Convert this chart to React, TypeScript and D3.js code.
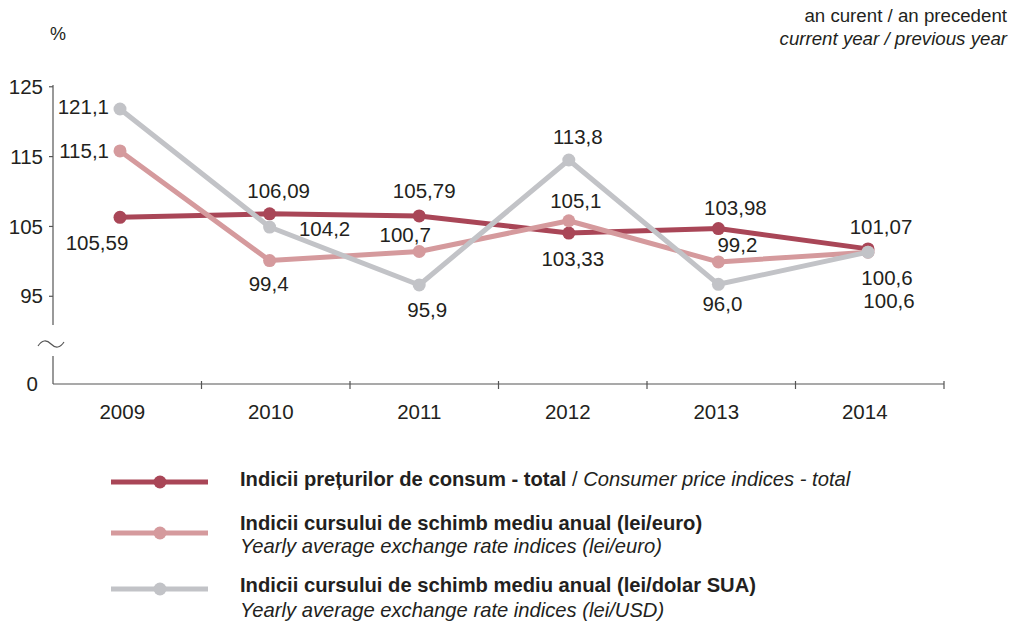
import React from "react";
import * as d3 from "d3";

const years = ["2009", "2010", "2011", "2012", "2013", "2014"];
const cpi = [105.59, 106.09, 105.79, 103.33, 103.98, 101.07];
const euro = [115.1, 99.4, 100.7, 105.1, 99.2, 100.6];
const usd = [121.1, 104.2, 95.9, 113.8, 96.0, 100.6];
const cpiLabels = ["105,59", "106,09", "105,79", "103,33", "103,98", "101,07"];
const euroLabels = ["115,1", "99,4", "100,7", "105,1", "99,2", "100,6"];
const usdLabels = ["121,1", "104,2", "95,9", "113,8", "96,0", "100,6"];
const yTicks = [95, 105, 115, 125];
const yTickLabels = ["95", "105", "115", "125"];
const legendBold = [
  "Indicii prețurilor de consum - total",
  "Indicii cursului de schimb mediu anual (lei/euro)",
  "Indicii cursului de schimb mediu anual (lei/dolar SUA)",
];
const legendItalic = [
  "Consumer price indices - total",
  "Yearly average exchange rate indices (lei/euro)",
  "Yearly average exchange rate indices (lei/USD)",
];

// label placement (dx, dy relative to point; anchor)
const cpiOff = [
  { dx: -23, dy: 33, a: "middle" },
  { dx: 9, dy: -16, a: "middle" },
  { dx: 5, dy: -18, a: "middle" },
  { dx: 4, dy: 33, a: "middle" },
  { dx: 17, dy: -14, a: "middle" },
  { dx: 13, dy: -15, a: "middle" },
];
const euroOff = [
  { dx: -11, dy: 7, a: "end" },
  { dx: -1, dy: 30, a: "middle" },
  { dx: -14, dy: -9, a: "middle" },
  { dx: 7, dy: -13, a: "middle" },
  { dx: 19, dy: -10, a: "middle" },
  { dx: 19, dy: 33, a: "middle" },
];
const usdOff = [
  { dx: -11, dy: 5, a: "end" },
  { dx: 55, dy: 9, a: "middle" },
  { dx: 8, dy: 32, a: "middle" },
  { dx: 9, dy: -16, a: "middle" },
  { dx: 4, dy: 27, a: "middle" },
  { dx: 21, dy: 56, a: "middle" },
];

const COLORS = ["#a94657", "#d59a9d", "#c2c3c7"];
const FONT = "'Liberation Sans', Arial, Helvetica, sans-serif";
const TEXT = "#231f20";

export default function App() {
  const W = 1011;
  const H = 622;
  const axisX = 53;
  const baseY = 384;
  const x = d3.scalePoint<string>().domain(years).range([120, 868]);
  const band = d3.scaleBand<string>().domain(years).range([axisX, 944]);
  const y = d3.scaleLinear().domain([95.9, 121.1]).range([285, 109]);
  const tickShift = 5;
  const line = d3
    .line<number>()
    .x((_, i) => x(years[i]) as number)
    .y((d) => y(d));

  const series = [
    { vals: cpi, labels: cpiLabels, off: cpiOff, color: COLORS[0] },
    { vals: euro, labels: euroLabels, off: euroOff, color: COLORS[1] },
    { vals: usd, labels: usdLabels, off: usdOff, color: COLORS[2] },
  ];

  const legendLineY = [482, 533, 589];
  const legendBoldY = [486, 530, 592];
  const legendItalicY = [486, 553, 617];

  return (
    <svg
      width={W}
      height={H}
      style={{ position: "absolute", left: 0, top: 0, background: "#fff" }}
      fontFamily={FONT}
    >
      <rect width={W} height={H} fill="#fff" />
      {/* header */}
      <text x={58} y={40} fontSize={18} fill={TEXT} textAnchor="middle">%</text>
      <text x={1007} y={22} fontSize={18.7} fill={TEXT} textAnchor="end">an curent / an precedent</text>
      <text x={1007} y={45} fontSize={18.7} fill={TEXT} textAnchor="end" fontStyle="italic">
        current year / previous year
      </text>

      {/* y axis */}
      <g stroke="#555" strokeWidth={1.2} fill="none">
        <line x1={axisX} x2={axisX} y1={85} y2={325} />
        <line x1={axisX} x2={axisX} y1={356} y2={baseY} />
        <path d={`M${axisX - 15},${346} q6,-9 13,-2 q7,7 13,-2`} />
        {yTicks.map((t) => (
          <line key={t} x1={axisX - 4} x2={axisX} y1={y(t) + tickShift} y2={y(t) + tickShift} />
        ))}
        {/* x axis */}
        <line x1={axisX} x2={944} y1={baseY} y2={baseY} />
        {years.map((yr, i) =>
          i === 0 ? null : (
            <line key={yr} x1={band(yr) as number} x2={band(yr) as number} y1={baseY - 3} y2={baseY + 5} />
          )
        )}
        <line x1={944} x2={944} y1={baseY - 3} y2={baseY + 5} />
      </g>
      {yTicks.map((t, i) => (
        <text key={t} x={43} y={y(t) + tickShift} dy="0.35em" fontSize={20.5} fill={TEXT} textAnchor="end">
          {yTickLabels[i]}
        </text>
      ))}
      <text x={38} y={baseY} dy="0.35em" fontSize={20.5} fill={TEXT} textAnchor="end">0</text>
      {years.map((yr) => (
        <text
          key={yr}
          x={(band(yr) as number) + band.bandwidth() / 2 - 5}
          y={419}
          fontSize={20.5}
          fill={TEXT}
          textAnchor="middle"
        >
          {yr}
        </text>
      ))}

      {/* lines */}
      {series.map((s, si) => (
        <g key={si}>
          <path d={line(s.vals) as string} fill="none" stroke={s.color} strokeWidth={5} strokeLinejoin="round" />
          {s.vals.map((v, i) => (
            <circle key={i} cx={x(years[i]) as number} cy={y(v)} r={6.5} fill={s.color} />
          ))}
        </g>
      ))}
      {series.map((s, si) =>
        s.vals.map((v, i) => (
          <text
            key={`${si}-${i}`}
            x={(x(years[i]) as number) + s.off[i].dx}
            y={y(v) + s.off[i].dy}
            fontSize={20.5}
            fill={TEXT}
            textAnchor={s.off[i].a as any}
          >
            {s.labels[i]}
          </text>
        ))
      )}

      {/* legend */}
      {legendBold.map((b, i) => (
        <g key={i}>
          <line x1={111} x2={208} y1={legendLineY[i]} y2={legendLineY[i]} stroke={COLORS[i]} strokeWidth={5} />
          <circle cx={160} cy={legendLineY[i]} r={6.5} fill={COLORS[i]} />
          {i === 0 ? (
            <text x={240} y={legendBoldY[i]} fontSize={20.2} fill={TEXT}>
              <tspan fontWeight="bold">{b}</tspan>
              <tspan> / </tspan>
              <tspan fontStyle="italic">{legendItalic[i]}</tspan>
            </text>
          ) : (
            <>
              <text x={240} y={legendBoldY[i]} fontSize={20.2} fill={TEXT} fontWeight="bold">{b}</text>
              <text x={240} y={legendItalicY[i]} fontSize={20.2} fill={TEXT} fontStyle="italic">{legendItalic[i]}</text>
            </>
          )}
        </g>
      ))}
    </svg>
  );
}
